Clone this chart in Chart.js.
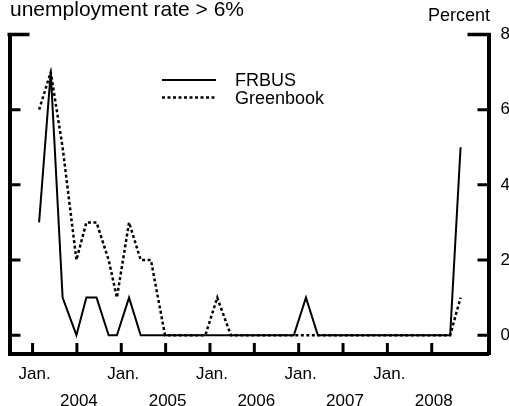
<!DOCTYPE html>
<html>
<head>
<meta charset="utf-8">
<script src="https://cdn.jsdelivr.net/npm/chart.js@4.4.1/dist/chart.umd.min.js"></script>
<style>
  html, body { margin: 0; padding: 0; background: #fff; }
  #wrap { width: 509px; height: 406px; }
</style>
</head>
<body>
<div id="wrap"><canvas id="unemp-chart" width="509" height="406"></canvas></div>
<script>
// FOMC meeting dates, 2004 - Oct 2008
var meetingDates = [
  "2004-01-28", "2004-03-16", "2004-05-04", "2004-06-30", "2004-08-10", "2004-09-21", "2004-11-10", "2004-12-14",
  "2005-02-02", "2005-03-22", "2005-05-03", "2005-06-30", "2005-08-09", "2005-09-20", "2005-11-01", "2005-12-13",
  "2006-01-31", "2006-03-28", "2006-05-10", "2006-06-29", "2006-08-08", "2006-09-20", "2006-10-25", "2006-12-12",
  "2007-01-31", "2007-03-21", "2007-05-09", "2007-06-28", "2007-08-07", "2007-09-18", "2007-10-31", "2007-12-11",
  "2008-01-30", "2008-03-18", "2008-04-30", "2008-06-25", "2008-08-05", "2008-09-16", "2008-10-29"
];

var frbusValues = [
  3, 7, 1, 0, 1, 1, 0, 0,
  1, 0, 0, 0, 0, 0, 0, 0,
  0, 0, 0, 0, 0, 0, 0, 0,
  1, 0, 0, 0, 0, 0, 0, 0,
  0, 0, 0, 0, 0, 0, 5
];

var greenbookValues = [
  6, 7, 5, 2, 3, 3, 2, 1,
  3, 2, 2, 0, 0, 0, 0, 0,
  1, 0, 0, 0, 0, 0, 0, 0,
  0, 0, 0, 0, 0, 0, 0, 0,
  0, 0, 0, 0, 0, 0, 1
];

// ticks every six months, Jan. on the year, year name on July
var xTickValues = [2004, 2004.5, 2005, 2005.5, 2006, 2006.5, 2007, 2007.5, 2008, 2008.5];
var xTickLabels = [
  ["Jan.", ""], ["", "2004"], ["Jan.", ""], ["", "2005"], ["Jan.", ""],
  ["", "2006"], ["Jan.", ""], ["", "2007"], ["Jan.", ""], ["", "2008"]
];
var yTickValues = [0, 2, 4, 6, 8];

var chartTitle = "unemployment rate > 6%";
var unitLabel = "Percent";

var FONT = "'Liberation Sans', Arial, Helvetica, sans-serif";

function toDecimalYear(s) {
  var p = s.split("-").map(Number);
  var start = Date.UTC(p[0], 0, 1);
  var end = Date.UTC(p[0] + 1, 0, 1);
  return p[0] + (Date.UTC(p[0], p[1] - 1, p[2]) - start) / (end - start);
}

function toPoints(values) {
  return values.map(function (v, i) {
    return { x: toDecimalYear(meetingDates[i]), y: v };
  });
}

// frame hooks, inward tick marks, title and legend
var decorations = {
  id: "decorations",
  afterDatasetsDraw: function (chart) {
    var ctx = chart.ctx;
    var area = chart.chartArea;
    var xs = chart.scales.x;
    var ys = chart.scales.yR;

    ctx.save();
    ctx.strokeStyle = "#000";
    ctx.lineCap = "butt";

    // x tick marks pointing up from the bottom axis
    ctx.lineWidth = 3;
    xs.ticks.forEach(function (t) {
      var px = xs.getPixelForValue(t.value);
      ctx.beginPath();
      ctx.moveTo(px, area.bottom - 1);
      ctx.lineTo(px, area.bottom - 11);
      ctx.stroke();
    });

    // y tick marks on both sides
    ys.ticks.forEach(function (t) {
      if (t.value >= 8) return;
      var py = ys.getPixelForValue(t.value);
      ctx.beginPath();
      ctx.moveTo(area.left, py);
      ctx.lineTo(area.left + 11, py);
      ctx.moveTo(area.right, py);
      ctx.lineTo(area.right - 11, py);
      ctx.stroke();
    });

    // top corner hooks
    ctx.lineWidth = 3.5;
    ctx.beginPath();
    ctx.moveTo(area.left - 2, area.top);
    ctx.lineTo(area.left + 20, area.top);
    ctx.moveTo(area.right + 2, area.top);
    ctx.lineTo(area.right - 21, area.top);
    ctx.stroke();

    // legend
    var items = chart.data.datasets;
    ctx.font = "18px " + FONT;
    ctx.fillStyle = "#000";
    ctx.textBaseline = "alphabetic";
    ctx.textAlign = "left";
    items.forEach(function (ds, i) {
      var ly = 80 + i * 17.5;
      ctx.lineWidth = ds.borderWidth;
      ctx.setLineDash(ds.borderDash || []);
      ctx.beginPath();
      ctx.moveTo(162, ly);
      ctx.lineTo(216, ly);
      ctx.stroke();
      ctx.setLineDash([]);
      ctx.fillText(ds.label, 235, ly + 6);
    });

    // titles
    ctx.font = "21px " + FONT;
    ctx.fillText(chartTitle, 10, 15.5);
    ctx.font = "18px " + FONT;
    ctx.textAlign = "right";
    ctx.fillText(unitLabel, 490, 21);
    ctx.restore();
  }
};

Chart.defaults.color = "#000";
Chart.defaults.font.family = FONT;

var ctx = document.getElementById("unemp-chart").getContext("2d");

var chart = new Chart(ctx, {
  type: "line",
  data: {
    datasets: [
      {
        label: "FRBUS",
        data: toPoints(frbusValues),
        borderColor: "#000",
        borderWidth: 2,
        tension: 0,
        pointRadius: 0,
        fill: false,
      },
      {
        label: "Greenbook",
        data: toPoints(greenbookValues),
        borderColor: "#000",
        borderWidth: 2.5,
        borderDash: [3, 2.5],
        tension: 0,
        pointRadius: 0,
        fill: false,
      },
    ],
  },
  options: {
    responsive: false,
    animation: false,
    events: [],
    layout: {
      padding: { left: 9.5, top: 34.5, right: 0, bottom: 0 },
    },
    plugins: {
      legend: { display: false },
      tooltip: { enabled: false },
    },
    scales: {
      x: {
        type: "linear",
        position: "bottom",
        min: 2003.74,
        max: 2009.14,
        afterBuildTicks: function (scale) {
          scale.ticks = xTickValues.map(function (v) { return { value: v }; });
        },
        afterFit: function (scale) {
          scale.height = 52;
        },
        border: { display: true, width: 4, color: "#000" },
        grid: { display: true, drawOnChartArea: false, drawTicks: false },
        ticks: {
          autoSkip: false,
          maxRotation: 0,
          padding: 6.5,
          labelOffset: 2,
          font: { size: 17, lineHeight: "27px" },
          callback: function (value, index) {
            return xTickLabels[index];
          },
        },
      },
      y: {
        position: "left",
        min: -0.5,
        max: 8,
        afterFit: function (scale) {
          scale.width = 0;
        },
        border: { display: true, width: 4, color: "#000" },
        grid: { display: true, drawOnChartArea: false, drawTicks: false },
        ticks: { display: false },
      },
      yR: {
        position: "right",
        min: -0.5,
        max: 8,
        afterBuildTicks: function (scale) {
          scale.ticks = yTickValues.map(function (v) { return { value: v }; });
        },
        afterFit: function (scale) {
          scale.width = 20.5;
        },
        border: { display: true, width: 4, color: "#000" },
        grid: { display: true, drawOnChartArea: false, drawTicks: false },
        ticks: {
          padding: 12,
          font: { size: 17 },
          callback: function (value) { return String(value); },
        },
      },
    },
  },
  plugins: [decorations],
});
</script>
</body>
</html>
